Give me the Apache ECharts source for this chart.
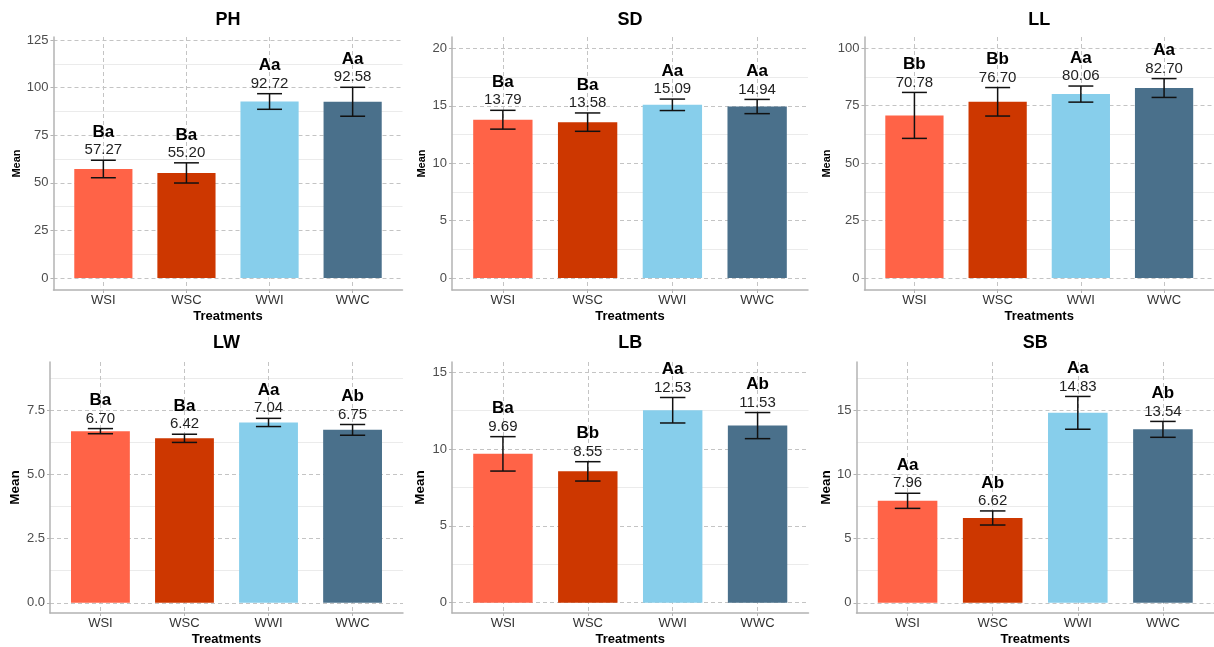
<!DOCTYPE html>
<html><head><meta charset="utf-8">
<script src="https://cdn.jsdelivr.net/npm/echarts@6/dist/echarts.min.js"></script>
<style>html,body{margin:0;padding:0;background:#fff}#c{width:1214px;height:647px}</style>
</head><body><div id="c"></div>
<script>
// ---------- data ----------
const treatments = ['WSI', 'WSC', 'WWI', 'WWC'];
const barColors = ['#FF6347', '#CD3700', '#87CEEB', '#4A708B'];
const panelTitles = ['PH', 'SD', 'LL', 'LW', 'LB', 'SB'];

const phMean = [57.27, 55.20, 92.72, 92.58];
const phSE = [4.6, 5.3, 4.1, 7.6];
const phLetters = ['Ba', 'Ba', 'Aa', 'Aa'];

const sdMean = [13.79, 13.58, 15.09, 14.94];
const sdSE = [0.82, 0.80, 0.50, 0.62];
const sdLetters = ['Ba', 'Ba', 'Aa', 'Aa'];

const llMean = [70.78, 76.70, 80.06, 82.70];
const llSE = [10.0, 6.2, 3.5, 4.1];
const llLetters = ['Bb', 'Bb', 'Aa', 'Aa'];

const lwMean = [6.70, 6.42, 7.04, 6.75];
const lwSE = [0.10, 0.16, 0.16, 0.21];
const lwLetters = ['Ba', 'Ba', 'Aa', 'Ab'];

const lbMean = [9.69, 8.55, 12.53, 11.53];
const lbSE = [1.12, 0.63, 0.83, 0.85];
const lbLetters = ['Ba', 'Bb', 'Aa', 'Ab'];

const sbMean = [7.96, 6.62, 14.83, 13.54];
const sbSE = [0.59, 0.55, 1.28, 0.62];
const sbLetters = ['Aa', 'Ab', 'Aa', 'Ab'];

// y tick labels per panel
const phTicks = [0, 25, 50, 75, 100, 125];
const sdTicks = [0, 5, 10, 15, 20];
const llTicks = [0, 25, 50, 75, 100];
const lwTicks = [0, 2.5, 5, 7.5];
const lbTicks = [0, 5, 10, 15];
const sbTicks = [0, 5, 10, 15];

// y axis limits per panel
const yLimits = [[-6.3, 126.6], [-1.05, 21.0], [-5.2, 104.9], [-0.40, 9.40], [-0.67, 15.67], [-0.80, 18.8]];
const yDecimals = [0, 0, 0, 1, 0, 0];

// ---------- layout (pixels) ----------
const layout = [
  {left: 53.5, top: 37, width: 349, height: 253, nameGap: 31, nameSize: 11, titleTop: 11},
  {left: 452, top: 37, width: 356, height: 253, nameGap: 25, nameSize: 11, titleTop: 11},
  {left: 864.5, top: 37, width: 349.5, height: 253, nameGap: 32, nameSize: 11, titleTop: 11},
  {left: 50, top: 362, width: 353, height: 251, nameGap: 28, nameSize: 13.5, titleTop: 334},
  {left: 452, top: 362, width: 356.5, height: 251, nameGap: 25, nameSize: 13.5, titleTop: 334},
  {left: 856.5, top: 362, width: 357.5, height: 251, nameGap: 23, nameSize: 13.5, titleTop: 334}
];

const means = [phMean, sdMean, llMean, lwMean, lbMean, sbMean];
const ses = [phSE, sdSE, llSE, lwSE, lbSE, sbSE];
const letters = [phLetters, sdLetters, llLetters, lwLetters, lbLetters, sbLetters];
const ticks = [phTicks, sdTicks, llTicks, lwTicks, lbTicks, sbTicks];

const FONT = '"Liberation Sans", Arial, Helvetica, sans-serif';
const xPos = treatments.map((t, i) => i + 1);
const axisGray = '#b3b3b3';
const gridDash = {type: [4, 3], color: '#c4c4c4', width: 1};

const grids = [], xAxes = [], yAxes = [], series = [], titles = [];

layout.forEach((L, p) => {
  grids.push({left: L.left, top: L.top, width: L.width, height: L.height, containLabel: false});
  titles.push({
    text: panelTitles[p], left: L.left + L.width / 2, top: L.titleTop, textAlign: 'center', padding: 0,
    textStyle: {fontSize: 18, fontWeight: 'bold', color: '#000', fontFamily: FONT}
  });
  xAxes.push({
    gridIndex: p, type: 'value', min: 0.4, max: 4.6, minInterval: 1, maxInterval: 1,
    axisLine: {show: true, onZero: false, lineStyle: {color: axisGray, width: 1.5}},
    axisTick: {show: true, length: 3, customValues: xPos, lineStyle: {color: axisGray}},
    axisLabel: {
      customValues: xPos, margin: 4, color: '#333', fontSize: 13, fontFamily: FONT,
      formatter: v => treatments[Math.round(v) - 1] || ''
    },
    splitLine: {show: true, lineStyle: gridDash},
    name: 'Treatments', nameLocation: 'middle', nameGap: 20,
    nameTextStyle: {fontWeight: 'bold', fontSize: 13, color: '#000', fontFamily: FONT}
  });
  const tk = ticks[p];
  const step = tk[1] - tk[0];
  yAxes.push({
    gridIndex: p, type: 'value', min: yLimits[p][0], max: yLimits[p][1],
    minInterval: step, maxInterval: step,
    axisLine: {show: true, onZero: false, lineStyle: {color: axisGray, width: 1.5}},
    axisTick: {show: true, length: 3, customValues: tk, lineStyle: {color: axisGray}},
    axisLabel: {
      customValues: tk, margin: 5, color: '#4d4d4d', fontSize: 13, fontFamily: FONT,
      formatter: v => Number(v).toFixed(yDecimals[p])
    },
    splitLine: {show: true, lineStyle: gridDash},
    minorTick: {show: false, splitNumber: 2},
    minorSplitLine: {show: true, lineStyle: {color: '#ebebeb', width: 1}},
    name: 'Mean', nameLocation: 'middle', nameGap: L.nameGap,
    nameTextStyle: {fontWeight: 'bold', fontSize: L.nameSize, color: '#000', fontFamily: FONT}
  });
  series.push({
    type: 'bar', xAxisIndex: p, yAxisIndex: p, barWidth: '70%',
    data: means[p].map((v, i) => ({value: [xPos[i], v], itemStyle: {color: barColors[i]}})),
    silent: true, animation: false
  });
  const lets = letters[p];
  series.push({
    type: 'custom', xAxisIndex: p, yAxisIndex: p, clip: false, z: 5, silent: true, animation: false,
    data: means[p].map((v, i) => [xPos[i], v, ses[p][i]]),
    renderItem: (params, api) => {
      const x = api.value(0), m = api.value(1), s = api.value(2);
      const top = api.coord([x, m + s]);
      const bot = api.coord([x, m - s]);
      const hw = api.size([0.3, 0])[0] / 2;
      const ls = {stroke: '#111', lineWidth: 1.5};
      return {
        type: 'group',
        children: [
          {type: 'line', shape: {x1: top[0], y1: top[1], x2: bot[0], y2: bot[1]}, style: ls},
          {type: 'line', shape: {x1: top[0] - hw, y1: top[1], x2: top[0] + hw, y2: top[1]}, style: ls},
          {type: 'line', shape: {x1: bot[0] - hw, y1: bot[1], x2: bot[0] + hw, y2: bot[1]}, style: ls},
          {type: 'text', style: {
            text: m.toFixed(2), x: top[0], y: top[1] - 10, align: 'center', verticalAlign: 'middle',
            fontSize: 15, fontFamily: FONT, fill: '#222'}},
          {type: 'text', style: {
            text: lets[params.dataIndex], x: top[0], y: top[1] - 28, align: 'center', verticalAlign: 'middle',
            fontSize: 17, fontWeight: 'bold', fontFamily: FONT, fill: '#000'}}
        ]
      };
    }
  });
});

const chart = echarts.init(document.getElementById('c'), null, {renderer: 'canvas'});
chart.setOption({
  animation: false,
  backgroundColor: '#fff',
  title: titles,
  grid: grids,
  xAxis: xAxes,
  yAxis: yAxes,
  series: series
});
</script>
</body></html>
